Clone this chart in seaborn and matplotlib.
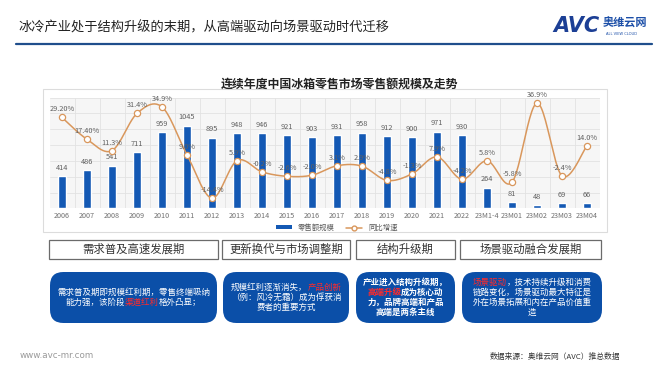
import numpy as np
import pandas as pd
import matplotlib
matplotlib.use("Agg")
import matplotlib.pyplot as plt
import seaborn as sns
from matplotlib.patches import FancyBboxPatch, Rectangle, Patch
from matplotlib.lines import Line2D

# ---------------- data ----------------
categories = ['2006', '2007', '2008', '2009', '2010', '2011', '2012', '2013', '2014', '2015',
              '2016', '2017', '2018', '2019', '2020', '2021', '2022', '23M1-4', '23M01',
              '23M02', '23M03', '23M04']
sales = [414, 486, 541, 711, 959, 1045, 895, 948, 946, 921, 903, 931, 958, 912, 900, 971,
         930, 264, 81, 48, 69, 66]
growth = [29.2, 17.4, 11.3, 31.4, 34.9, 9.0, -14.4, 5.9, -0.2, -2.6, -2.0, 3.1, 2.9, -4.8,
          -1.3, 7.9, -4.2, 5.8, -5.8, 36.9, -2.4, 14.0]
growth_labels = ['29.20%', '17.40%', '11.3%', '31.4%', '34.9%', '9.0%', '-14.4%', '5.9%',
                 '-0.2%', '-2.6%', '-2.0%', '3.1%', '2.9%', '-4.8%', '-1.3%', '7.9%', '-4.2%',
                 '5.8%', '-5.8%', '36.9%', '-2.4%', '14.0%']
legend_labels = ['零售额规模', '同比增速']

title = '冰冷产业处于结构升级的末期，从高端驱动向场景驱动时代迁移'
chart_title = '连续年度中国冰箱零售市场零售额规模及走势'
phases = ['需求普及高速发展期', '更新换代与市场调整期', '结构升级期', '场景驱动融合发展期']
phase_texts = [
    [[('需求普及期即规模红利期，零售终端吸纳', 'w')],
     [('能力强，该阶段', 'w'), ('渠道红利', 'r'), ('格外凸显；', 'w')]],
    [[('规模红利逐渐消失，', 'w'), ('产品创新', 'r')],
     [('（例：风冷无霜）成为俘获消', 'w')],
     [('费者的重要方式', 'w')]],
    [[('产业进入结构升级期，', 'w')],
     [('高端升级', 'r'), ('成为核心动', 'w')],
     [('力，品牌高端和产品', 'w')],
     [('高端是两条主线', 'w')]],
    [[('场景驱动', 'r'), ('，技术持续升级和消费', 'w')],
     [('链路变化，场景驱动最大特征是', 'w')],
     [('外在场景拓展和内在产品价值重', 'w')],
     [('造', 'w')]],
]
source_text = '数据来源：奥维云网（AVC）推总数据'
site_text = 'www.avc-mr.com'

# ---------------- style ----------------
sns.set_theme(style='white')
plt.rcParams['font.family'] = ['Noto Sans CJK SC', 'DejaVu Sans']
plt.rcParams['axes.unicode_minus'] = False

W, H = 670, 377
fig = plt.figure(figsize=(W / 100, H / 100), dpi=100)
fig.patch.set_facecolor('white')


def fx(px):
    return px / W


def fy(py):
    return 1 - py / H


BAR_C = '#1459b4'
LINE_C = '#d9975c'
DARK_BLUE = '#1f4e8c'
BOX_BLUE = '#0b4fa8'

# title
fig.text(fx(18), fy(28), title, fontsize=9.5, color='#222222', va='center', ha='left')
fig.add_artist(Line2D([fx(16), fx(652)], [fy(44), fy(44)], color=DARK_BLUE, lw=1.6))
# logo
fig.text(fx(553), fy(26), 'AVC', fontsize=15, color='#1c3f95', weight='bold', style='italic',
         va='center', ha='left', family='DejaVu Sans')
fig.text(fx(603), fy(23), '奥维云网', fontsize=8, color='#1c4fa8', weight='bold', va='center', ha='left')
fig.text(fx(606), fy(34), 'ALL VIEW CLOUD', fontsize=2.6, color='#1c4fa8', va='center', ha='left',
         family='DejaVu Sans')

# chart frame
fig.add_artist(Rectangle((fx(43), fy(232)), fx(607) - fx(43), fy(89) - fy(232), transform=fig.transFigure,
                         facecolor='white', edgecolor='#dcdcdc', lw=0.8, zorder=0))
fig.text(fx(340), fy(84), chart_title, fontsize=8.6, weight='bold', color='#222222', va='center', ha='center')

# ---------------- main axes ----------------
ax = fig.add_axes([fx(49.5), fy(208.5), 550 / W, 111 / H])
ax.set_facecolor('#f6f6f6')
df = pd.DataFrame({'cat': categories, 'sales': sales, 'growth': growth})
sns.barplot(data=df, x='cat', y='sales', color=BAR_C, saturation=1, width=0.32, ax=ax, zorder=3)
ax.set_ylim(0, 1400)
ax.set_xlim(-0.5, len(categories) - 0.5)
ax.set_yticks(np.arange(0, 1401, 200))
ax.set_yticklabels([])
ax.set_xticks(np.arange(len(categories)) + 0.5, minor=True)
ax.grid(True, which='major', axis='y', color='#e2e2e2', lw=0.6, zorder=0)
ax.grid(True, which='minor', axis='x', color='#e2e2e2', lw=0.6, zorder=0)
ax.tick_params(axis='both', which='both', length=0)
ax.tick_params(axis='x', labelsize=5.2, labelcolor='#707070', pad=2.5)
ax.set_xlabel('')
ax.set_ylabel('')
for s in ax.spines.values():
    s.set_visible(False)
ax.bar_label(ax.containers[0], labels=[str(v) for v in sales], padding=3, fontsize=5.3, color='#606060')

# secondary axis, smoothed line
ax2 = ax.twinx()
ax2.set_ylim(-20, 40)
ax2.set_yticks([])
for s in ax2.spines.values():
    s.set_visible(False)

xs = np.arange(len(growth), dtype=float)
ys = np.array(growth, dtype=float)
sx, sy = [], []
t = np.linspace(0, 1, 25)
n = len(xs)
for i in range(n - 1):
    p0 = np.array([xs[i], ys[i]])
    p3 = np.array([xs[i + 1], ys[i + 1]])
    pm = np.array([xs[i - 1], ys[i - 1]]) if i > 0 else p0
    pn = np.array([xs[i + 2], ys[i + 2]]) if i + 2 < n else p3
    c1 = p0 + (p3 - pm) / 6
    c2 = p3 - (pn - p0) / 6
    pts = ((1 - t) ** 3)[:, None] * p0 + (3 * (1 - t) ** 2 * t)[:, None] * c1 + \
          (3 * (1 - t) * t ** 2)[:, None] * c2 + (t ** 3)[:, None] * p3
    sx.extend(pts[:, 0])
    sy.extend(pts[:, 1])
curve = pd.DataFrame({'x': sx, 'y': sy})
sns.lineplot(data=curve, x='x', y='y', sort=False, color=LINE_C, lw=1.1, ax=ax2, zorder=4)
sns.scatterplot(x=xs, y=ys, s=20, color='white', edgecolor=LINE_C, linewidth=0.9, ax=ax2, zorder=5)
ax2.set_xlim(-0.5, len(categories) - 0.5)
ax2.set_xlabel('')
ax2.set_ylabel('')
for xi, yi, lab in zip(xs, ys, growth_labels):
    ax2.annotate(lab, (xi, yi), xytext=(0, 8), textcoords='offset pixels', ha='center', va='center',
                 fontsize=5.3, color='#606060', zorder=6)

# legend
handles = [Patch(facecolor=BAR_C, edgecolor='none'),
           Line2D([0], [0], color=LINE_C, lw=1.1, marker='o', markersize=3.5,
                  markerfacecolor='white', markeredgecolor=LINE_C)]
fig.legend(handles, legend_labels, loc='center', bbox_to_anchor=(fx(337), fy(228)), ncol=2,
           frameon=False, fontsize=5.3, handlelength=2.2, handleheight=0.5, columnspacing=1.5,
           labelcolor='#595959')

# ---------------- phase boxes ----------------
header_boxes = [(49, 218), (222, 350), (356, 455), (460, 601)]
body_boxes = [(50, 217), (223, 349), (356, 455), (462, 602)]
for (x0, x1), lab in zip(header_boxes, phases):
    fig.add_artist(Rectangle((fx(x0), fy(259)), fx(x1) - fx(x0), fy(240) - fy(259),
                             transform=fig.transFigure, facecolor='white', edgecolor='#6b6b6b', lw=0.9))
    fig.text(fx((x0 + x1) / 2), fy(249.5), lab, fontsize=8.2, color='#333333', ha='center', va='center')

renderer = fig.canvas.get_renderer()


def rich_line(xc, y, segs, fs, weight):
    arts = []
    for s, c in segs:
        col = '#ff2a2a' if c == 'r' else 'white'
        a = fig.text(0, fy(y), s, fontsize=fs, color=col, weight=weight, ha='left', va='center')
        arts.append(a)
    widths = [a.get_window_extent(renderer).width for a in arts]
    total = sum(widths)
    x = xc - total / 2
    for a, w in zip(arts, widths):
        a.set_x(fx(x))
        x += w


for (x0, x1), lines, bold in zip(body_boxes, phase_texts, [False, False, True, False]):
    fig.add_artist(FancyBboxPatch((fx(x0), fy(323)), fx(x1) - fx(x0), fy(272) - fy(323),
                                  boxstyle='round,pad=0,rounding_size=0.02',
                                  transform=fig.transFigure, facecolor=BOX_BLUE, edgecolor='none',
                                  mutation_aspect=W / H))
    nl = len(lines)
    lh = 10.2
    y0 = 297.5 - (nl - 1) * lh / 2
    for k, segs in enumerate(lines):
        rich_line((x0 + x1) / 2, y0 + k * lh, segs, 6.1, 'bold' if bold else 'normal')

# footer
fig.text(fx(20), fy(355), site_text, fontsize=6.3, color='#9a9a9a', ha='left', va='center',
         family='DejaVu Sans')
fig.text(fx(620), fy(357), source_text, fontsize=5.6, color='#333333', ha='right', va='center')

fig.savefig('out.png', dpi=100, facecolor='white')
